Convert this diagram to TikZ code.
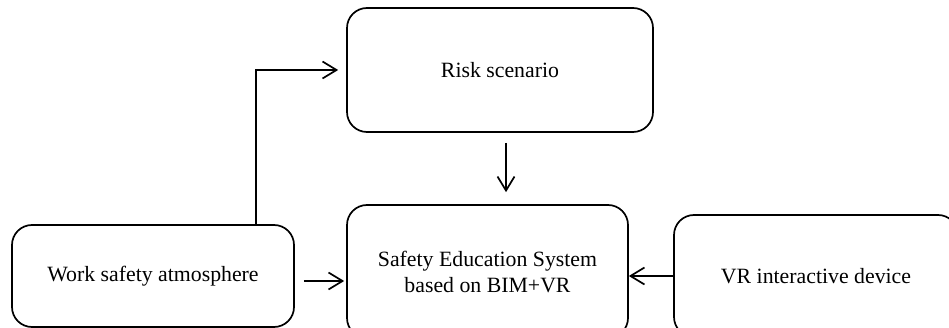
\documentclass[tikz,border=0pt]{standalone}
\usepackage{fontspec}
\setmainfont{Liberation Serif}
\usetikzlibrary{arrows.meta}
\begin{document}
\begin{tikzpicture}[x=1pt,y=-1pt,
  box/.style={draw=black,line width=1.7pt,rounded corners=20pt,inner sep=0pt,
    align=center,font=\fontsize{21.8}{26}\selectfont},
  arr/.style={line width=1.7pt,-{Straight Barb[length=14pt,width=17pt,line width=1.7pt]}}]
\useasboundingbox (0,0) rectangle (949,328);
\clip (0,0) rectangle (949,328);
\node[box,minimum width=306pt,minimum height=124pt] (risk) at (500,70) {Risk scenario};
\node[box,minimum width=281pt,minimum height=133pt] (safety) at (487.5,271.5) {Safety Education System\\based on BIM+VR};
\node[box,minimum width=282pt,minimum height=102pt] (work) at (153,276) {Work safety atmosphere};
\node[box,minimum width=284pt,minimum height=122pt] (vr) at (816,276) {VR interactive device};
\draw[arr,shorten >=8pt] ([xshift=103pt]work.north) |- (risk.west);
\draw[arr,shorten <=10pt,shorten >=12pt] ([xshift=6pt]risk.south) -- ([xshift=6pt]risk.south |- safety.north);
\draw[arr,shorten <=9pt,shorten >=2pt] ([yshift=-5pt]work.east) -- ([yshift=-5pt]work.east -| safety.west);
\draw[arr] (vr.west) -- (vr.west -| safety.east);
\end{tikzpicture}
\end{document}
